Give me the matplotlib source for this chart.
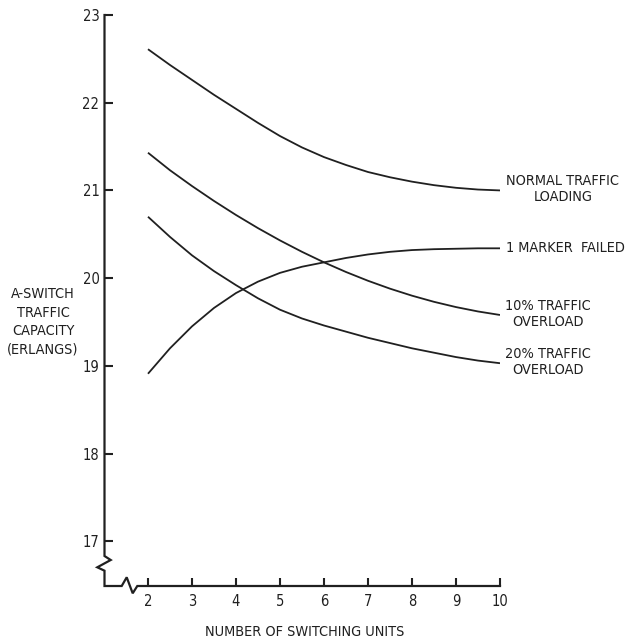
import matplotlib
matplotlib.use("Agg")
import matplotlib.pyplot as plt

units = [2, 2.5, 3, 3.5, 4, 4.5, 5, 5.5, 6, 6.5, 7, 7.5, 8, 8.5, 9, 9.5, 10]
normal = [22.61, 22.43, 22.26, 22.09, 21.93, 21.77, 21.62, 21.49, 21.38, 21.29,
          21.21, 21.15, 21.10, 21.06, 21.03, 21.01, 21.00]
overload10 = [21.43, 21.23, 21.05, 20.88, 20.72, 20.57, 20.43, 20.30, 20.18, 20.07,
              19.97, 19.88, 19.80, 19.73, 19.67, 19.62, 19.58]
overload20 = [20.70, 20.47, 20.26, 20.08, 19.92, 19.77, 19.64, 19.54, 19.46, 19.39,
              19.32, 19.26, 19.20, 19.15, 19.10, 19.06, 19.03]
marker_failed = [18.91, 19.20, 19.45, 19.66, 19.83, 19.96, 20.06, 20.13, 20.18, 20.23,
                 20.27, 20.30, 20.32, 20.33, 20.335, 20.34, 20.34]
yticks = [17, 18, 19, 20, 21, 22, 23]
xticks = [2, 3, 4, 5, 6, 7, 8, 9, 10]

plt.rcParams['font.family'] = ['DejaVu Sans']
INK = "#202020"
TXT = dict(family=['DejaVu Sans'], stretch='condensed')

W, H = 627, 641
fig = plt.figure(figsize=(W / 100, H / 100), dpi=100)
ax0, ax1 = 105, 500
ay0, ay1 = 15, 586
ax = fig.add_axes([ax0 / W, 1 - ay1 / H, (ax1 - ax0) / W, (ay1 - ay0) / H])
ax.set_xlim(1.023, 10)
ax.set_ylim(16.49, 23)

for s in ax.spines.values():
    s.set_visible(False)

lw = 1.3
for ys in (normal, overload10, overload20, marker_failed):
    ax.plot(units, ys, color=INK, lw=lw, solid_capstyle='butt', solid_joinstyle='round')

ax.set_xticks(xticks)
ax.set_yticks(yticks)
ax.tick_params(direction='in', length=6, width=1.5, color=INK, labelcolor=INK,
               labelsize=10.5, pad=4)
ax.tick_params(axis='x', pad=6)
for lab in ax.get_xticklabels() + ax.get_yticklabels():
    lab.set_fontstretch('condensed')

def px2ax(px, py):
    return (px - ax0) / (ax1 - ax0), (ay1 - py) / (ay1 - ay0)

path = [(104.5, 15), (104.5, 556), (110.7, 560), (97.3, 567.3), (104.5, 570.7),
        (104.5, 586), (121.7, 586), (126.7, 577.3), (132.7, 593.3), (137.3, 586),
        (500, 586)]
pts = [px2ax(*p) for p in path]
ax.plot([p[0] for p in pts], [p[1] for p in pts], transform=ax.transAxes,
        color=INK, lw=1.6, clip_on=False, solid_joinstyle='miter')

fs = 10.4
def ftxt(px, py, s, ha='center', va='center', ls=1.25):
    fig.text(px / W, 1 - py / H, s, ha=ha, va=va, fontsize=fs, color=INK,
             linespacing=ls, **TXT)

ftxt(563, 189, "NORMAL TRAFFIC\nLOADING")
ftxt(506, 248, "1 MARKER  FAILED", ha='left')
ftxt(548, 314, "10% TRAFFIC\nOVERLOAD")
ftxt(548, 362, "20% TRAFFIC\nOVERLOAD")
ftxt(43, 322, "A-SWITCH\nTRAFFIC\nCAPACITY\n(ERLANGS)", ls=1.4)
ftxt(305, 632, "NUMBER OF SWITCHING UNITS")

fig.savefig("out.png", dpi=100, facecolor="white")
